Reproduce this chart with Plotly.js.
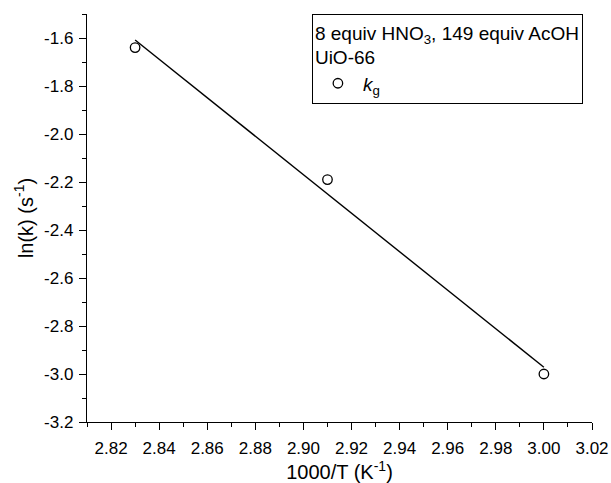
<!DOCTYPE html>
<html>
<head>
<meta charset="utf-8">
<script src="https://cdn.plot.ly/plotly-3.0.1.min.js"></script>
<style>html,body{margin:0;padding:0;background:#fff;}</style>
</head>
<body>
<div id="chart" style="width:611px;height:483px;"></div>
<script>
// Data
const invT = [2.83, 2.91, 3.00];          // 1000/T (K^-1)
const lnK  = [-1.64, -2.19, -3.00];       // ln(k) (s^-1)
const xTicks = [2.82, 2.84, 2.86, 2.88, 2.90, 2.92, 2.94, 2.96, 2.98, 3.00, 3.02];
const yTicks = [-3.2, -3.0, -2.8, -2.6, -2.4, -2.2, -2.0, -1.8, -1.6];

// Linear least-squares fit of the data
const n = invT.length;
const mx = invT.reduce((a, b) => a + b, 0) / n;
const my = lnK.reduce((a, b) => a + b, 0) / n;
let sxy = 0, sxx = 0;
for (let i = 0; i < n; i++) { sxy += (invT[i] - mx) * (lnK[i] - my); sxx += (invT[i] - mx) ** 2; }
const slope = sxy / sxx, icpt = my - slope * mx;
const fitX = [Math.min(...invT), Math.max(...invT)];
const fitY = fitX.map(x => icpt + slope * x);

const font = 'Liberation Sans, Arial, sans-serif';

const traces = [
  {
    x: invT, y: lnK, type: 'scatter', mode: 'markers',
    name: '<i>k</i><sub>g</sub>',
    marker: {symbol: 'circle-open', size: 9.5, color: '#000', line: {width: 1.3, color: '#000'}}
  },
  {
    x: fitX, y: fitY, type: 'scatter', mode: 'lines',
    showlegend: false, line: {color: '#000', width: 1.4}, hoverinfo: 'skip'
  }
];

const layout = {
  width: 611, height: 483,
  margin: {l: 87, r: 19, t: 14, b: 61},
  paper_bgcolor: '#fff', plot_bgcolor: '#fff',
  font: {family: font, color: '#000', size: 17},
  showlegend: true,
  legend: {
    x: 0.982, xanchor: 'right', y: 1.0, yanchor: 'top',
    bordercolor: '#000', borderwidth: 1, bgcolor: '#fff',
    itemwidth: 40,
    font: {family: font, size: 19, color: '#000'},
    title: {text: '8 equiv HNO<sub>3</sub>, 149 equiv AcOH<br>UiO-66', font: {family: font, size: 19, color: '#000'}}
  },
  xaxis: {
    range: [2.81, 3.02], tickvals: xTicks, ticktext: xTicks.map(v => v.toFixed(2)),
    ticks: 'outside', ticklen: 7, tickwidth: 1, tickcolor: '#000', ticklabelstandoff: 3,
    showline: true, linecolor: '#000', linewidth: 1.2, showgrid: false, zeroline: false,
    minor: {dtick: 0.01, tick0: 2.81, ticks: 'outside', ticklen: 4, tickcolor: '#000', showgrid: false},
    tickfont: {family: font, size: 17, color: '#000'},
    title: {text: '1000/T (K<sup>-1</sup>)', font: {family: font, size: 20, color: '#000'}, standoff: 8}
  },
  yaxis: {
    range: [-3.2, -1.5], tickvals: yTicks, ticktext: yTicks.map(v => v.toFixed(1)),
    ticks: 'outside', ticklen: 7, tickwidth: 1, tickcolor: '#000', ticklabelstandoff: 2,
    showline: true, linecolor: '#000', linewidth: 1.2, showgrid: false, zeroline: false,
    minor: {dtick: 0.1, tick0: -3.2, ticks: 'outside', ticklen: 4, tickcolor: '#000', showgrid: false},
    tickfont: {family: font, size: 17, color: '#000'},
    title: {text: 'ln(k) (s<sup>-1</sup>)', font: {family: font, size: 20, color: '#000'}, standoff: 5}
  }
};

Plotly.newPlot('chart', traces, layout, {displayModeBar: false, staticPlot: true});
</script>
</body>
</html>
